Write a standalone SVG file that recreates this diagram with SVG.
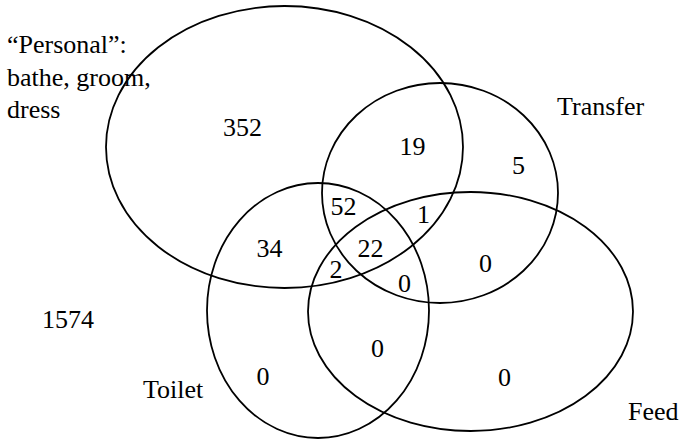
<svg xmlns="http://www.w3.org/2000/svg" width="681" height="439" viewBox="0 0 681 439">
<style>
.set{fill:none;stroke:#000;stroke-width:1.8}
text{font-family:"Liberation Serif","Times New Roman",serif;font-size:26px;fill:#000}
.n{text-anchor:middle}
</style>
<rect width="681" height="439" fill="#fff"/>
<g id="connectors"></g>
<g id="personal">
<ellipse class="set" cx="284.5" cy="147" rx="178.5" ry="141"/>
<text x="7" y="53">“Personal”:</text>
<text x="7" y="86">bathe, groom,</text>
<text x="7" y="118">dress</text>
</g>
<g id="transfer">
<ellipse class="set" cx="440" cy="193" rx="118" ry="110"/>
<text x="557" y="115">Transfer</text>
</g>
<g id="toilet">
<ellipse class="set" cx="318" cy="310.5" rx="111" ry="127.5"/>
<text x="143" y="398">Toilet</text>
</g>
<g id="feed">
<ellipse class="set" cx="470.5" cy="311.5" rx="162.5" ry="119.5"/>
<text x="628" y="420">Feed</text>
</g>
<g id="counts">
<text class="n" x="242.5" y="136">352</text>
<text class="n" x="412.5" y="155">19</text>
<text class="n" x="518.5" y="174">5</text>
<text class="n" x="343.5" y="215">52</text>
<text class="n" x="423.5" y="223">1</text>
<text class="n" x="269.5" y="257">34</text>
<text class="n" x="370.5" y="257">22</text>
<text class="n" x="336" y="278">2</text>
<text class="n" x="404.5" y="292">0</text>
<text class="n" x="485.5" y="272">0</text>
<text class="n" x="263" y="385">0</text>
<text class="n" x="377.5" y="357">0</text>
<text class="n" x="504.5" y="386">0</text>
<text class="n" x="68" y="328">1574</text>
</g>
</svg>
